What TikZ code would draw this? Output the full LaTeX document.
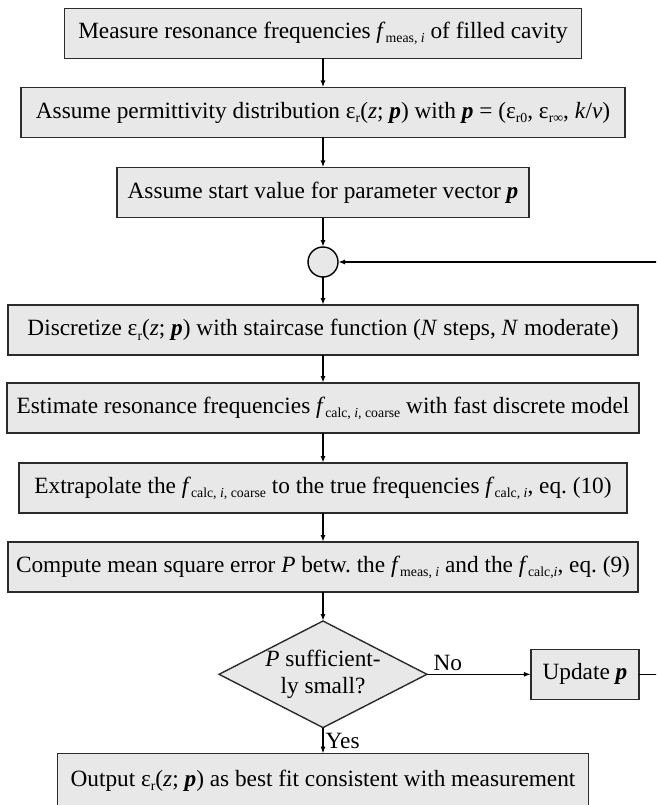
\documentclass[tikz,border=0pt]{standalone}
\usepackage{fontspec}
\setmainfont{Liberation Serif}
\usetikzlibrary{arrows.meta,positioning,shapes.geometric}
\definecolor{boxfill}{HTML}{E8E8E8}
\definecolor{boxline}{HTML}{2B2B2B}
\newcommand{\lowidx}[1]{\raisebox{-0.4ex}{\fontsize{13.8}{13.8}\selectfont #1}}
\newcommand{\vecp}{\textbf{\textit{p}}}
\frenchspacing

\begin{document}
\begin{tikzpicture}[
  x=1pt,y=-1pt,
  >={Latex[length=7pt,width=5pt]},
  stepbox/.style={draw=boxline,fill=boxfill,line width=1.4pt,
    minimum height=50pt,inner sep=0pt,outer sep=0pt},
  decision/.style={diamond,draw=boxline,fill=boxfill,line width=1.4pt,
    aspect=1.95,inner sep=0pt,outer sep=0pt,minimum width=207pt,
    minimum height=106pt,align=center},
  junction/.style={circle,draw=black,fill=boxfill,line width=1.4pt,
    minimum size=30pt,inner sep=0pt,outer sep=0pt},
  flow/.style={->,line width=1.4pt,draw=black},
  every node/.style={font=\fontsize{23.3}{26}\selectfont}
]
  \clip (0,0) rectangle (656,805);
  \node[stepbox,minimum width=517pt] (measure) at (323,33.5)
    {Measure resonance frequencies \textit{f}\lowidx{meas, \textit{i}} of filled cavity};
  \node[stepbox,minimum width=604pt,below=29pt of measure] (model)
    {Assume permittivity distribution ε\lowidx{r}(\textit{z}; \vecp) with \vecp{} = (ε\lowidx{r0}, ε\lowidx{r∞}, \textit{k}/\textit{v})};
  \node[stepbox,minimum width=412pt,below=30pt of model] (start)
    {Assume start value for parameter vector \vecp};
  \node[junction,below=29.5pt of start] (merge) {};
  \node[stepbox,minimum width=630pt,below=28pt of merge] (discretize)
    {Discretize ε\lowidx{r}(\textit{z}; \vecp) with staircase function (\textit{N} steps, \textit{N} moderate)};
  \node[stepbox,minimum width=632pt,below=28pt of discretize] (estimate)
    {Estimate resonance frequencies \textit{f}\lowidx{calc, \textit{i,} coarse} with fast discrete model};
  \node[stepbox,minimum width=608pt,below=30pt of estimate] (extrapolate)
    {Extrapolate the \textit{f}\lowidx{calc, \textit{i,} coarse} to the true frequencies \textit{f}\lowidx{calc, \textit{i}}, eq. (10)};
  \node[stepbox,minimum width=630pt,below=29pt of extrapolate] (error)
    {Compute mean square error \textit{P} betw. the \textit{f}\lowidx{meas, \textit{i}} and the \textit{f}\lowidx{calc,\textit{i}}, eq. (9)};
  \node[decision,below=29pt of error] (check) {\textit{P} sufficient-\\ly small?};
  \node[stepbox,minimum width=108pt,right=104pt of check] (update) {Update \vecp};
  \node[stepbox,minimum width=531pt,minimum height=54pt,below=26pt of check] (result)
    {Output ε\lowidx{r}(\textit{z}; \vecp) as best fit consistent with measurement};
  \coordinate (loopedge) at (664,0);

  \draw[flow] (measure) -- (model);
  \draw[flow] (model) -- (start);
  \draw[flow] (start) -- (merge);
  \draw[flow] (merge) -- (discretize);
  \draw[flow] (discretize) -- (estimate);
  \draw[flow] (estimate) -- (extrapolate);
  \draw[flow] (extrapolate) -- (error);
  \draw[flow] (error) -- (check);
  \draw[flow] (check.east) -- node[above,pos=0.2] {No} (update.west);
  \draw[flow] (check.south) -- node[right,inner sep=2pt] {Yes} (result.north);
  \draw[flow] (update.east) -- (update.east -| loopedge) |- (merge.east);
\end{tikzpicture}
\end{document}
